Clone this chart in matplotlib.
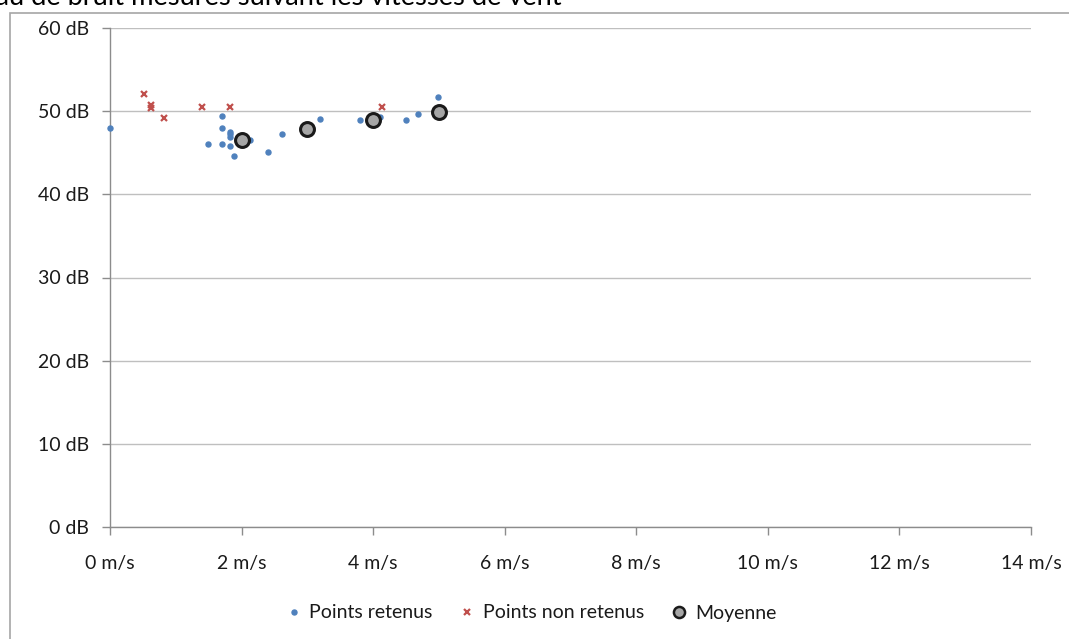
import matplotlib
matplotlib.use("Agg")
import matplotlib.pyplot as plt
from matplotlib.lines import Line2D
from matplotlib.patches import Rectangle

plt.rcParams['font.family'] = ['Lato', 'DejaVu Sans']

# Wind speed (m/s) and noise level (dB) of the measurements
kept_speed = [0.0, 1.70, 1.70, 1.82, 1.82, 1.82, 1.49, 1.70, 1.82, 1.88,
              2.13, 2.40, 2.62, 3.19, 3.80, 4.10, 4.50, 4.68, 4.99]
kept_db = [48.0, 49.4, 48.0, 47.5, 47.2, 46.9, 46.1, 46.1, 45.8, 44.6,
           46.5, 45.1, 47.3, 49.0, 48.9, 49.3, 48.9, 49.7, 51.7]

rejected_speed = [0.52, 0.63, 0.63, 0.82, 1.40, 1.82, 4.14]
rejected_db = [52.1, 50.8, 50.4, 49.2, 50.5, 50.5, 50.5]

mean_speed = [2, 3, 4, 5]
mean_db = [46.5, 47.9, 48.9, 49.9]

x_ticks = [0, 2, 4, 6, 8, 10, 12, 14]
y_ticks = [0, 10, 20, 30, 40, 50, 60]

title = "Niveau de bruit mesurés suivant les vitesses de vent"
legend_labels = ["Points retenus", "Points non retenus", "Moyenne"]

W, H = 1069, 639
fig = plt.figure(figsize=(W / 100, H / 100), dpi=100)
fig.patch.set_facecolor("white")

# outer chart frame
fig.patches.append(Rectangle((10 / W, -0.05), 1.2, (H - 13) / H + 0.05,
                             transform=fig.transFigure, fill=False,
                             edgecolor="#a6a6a6", linewidth=1.2))

fig.text(562 / W, 1 - 5 / H, title, ha="right", va="baseline",
         fontsize=19.6, color="#000000")

ax = fig.add_axes([110 / W, (H - 527) / H, (1031 - 110) / W, (527 - 28) / H])
ax.set_xlim(0, 14)
ax.set_ylim(0, 60)
ax.set_xticks(x_ticks)
ax.set_yticks(y_ticks)
ax.set_xticklabels([f"{v} m/s" for v in x_ticks])
ax.set_yticklabels([f"{v} dB" for v in y_ticks])

for s in ["top", "right"]:
    ax.spines[s].set_visible(False)
for s in ["left", "bottom"]:
    ax.spines[s].set_color("#8c8c8c")
    ax.spines[s].set_linewidth(1.0)

ax.tick_params(axis="both", direction="out", length=6, width=1.0,
               color="#8c8c8c", labelsize=14, labelcolor="#1a1a1a")
ax.tick_params(axis="x", pad=14)
ax.tick_params(axis="y", pad=9)

ax.grid(axis="y", color="#bfbfbf", linewidth=1.0)
ax.set_axisbelow(True)

blue = "#4f81bd"
red = "#c0504d"

ax.plot(kept_speed, kept_db, linestyle="none", marker="o", markersize=3.6,
        color=blue, clip_on=False, zorder=3)
ax.plot(rejected_speed, rejected_db, linestyle="none", marker="x",
        markersize=4.5, markeredgewidth=1.6, color=red, clip_on=False, zorder=3)
ax.plot(mean_speed, mean_db, linestyle="none", marker="o", markersize=10,
        markerfacecolor="#a6a6a6", markeredgecolor="#1a1a1a",
        markeredgewidth=2.2, zorder=4)

handles = [
    Line2D([], [], linestyle="none", marker="o", markersize=3.6, color=blue),
    Line2D([], [], linestyle="none", marker="x", markersize=4.5,
           markeredgewidth=1.6, color=red),
    Line2D([], [], linestyle="none", marker="o", markersize=8,
           markerfacecolor="#a6a6a6", markeredgecolor="#1a1a1a",
           markeredgewidth=1.8),
]
fig.legend(handles, legend_labels, loc="center", ncol=3,
           bbox_to_anchor=(531 / W, (H - 613) / H), frameon=False,
           fontsize=14, handlelength=0.8, handletextpad=0.4,
           columnspacing=1.4, labelcolor="#1a1a1a")

fig.savefig("out.png", dpi=100, facecolor="white")
